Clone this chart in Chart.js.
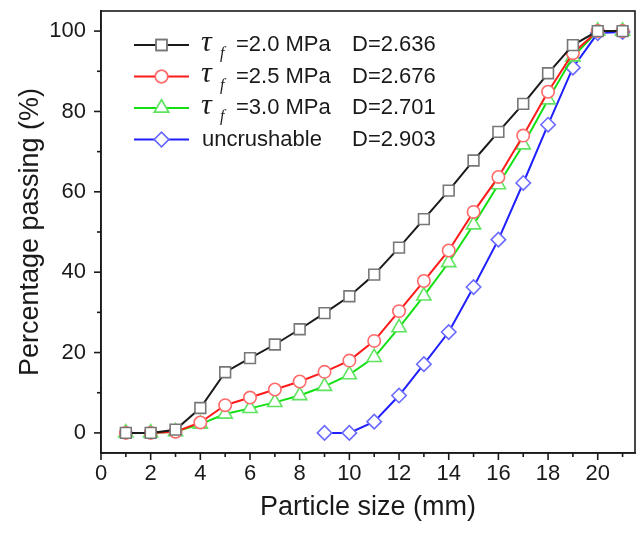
<!DOCTYPE html>
<html>
<head>
<meta charset="utf-8">
<script src="https://cdn.jsdelivr.net/npm/chart.js@4.4.0/dist/chart.umd.min.js"></script>
<style>
  html, body { margin: 0; padding: 0; background: #fff; }
  #wrap { width: 639px; height: 533px; position: relative; }
</style>
</head>
<body>
<div id="wrap"><canvas id="c" width="639" height="533"></canvas></div>
<script>
// ---- data ----
const sizes = [1,2,3,4,5,6,7,8,9,10,11,12,13,14,15,16,17,18,19,20,21];
const tau20 = [0,0,0.8,6.2,15.1,18.6,22.0,25.8,29.8,34.0,39.4,46.1,53.2,60.3,67.8,74.9,81.9,89.5,96.5,100,100];
const tau25 = [0,0,0.3,2.6,6.9,8.8,10.8,12.8,15.2,18.0,22.9,30.3,37.8,45.4,55.0,63.7,74.0,84.9,94.5,100,100];
const tau30 = [0,0,0.3,2.2,4.7,6.1,7.6,9.3,11.6,14.5,18.8,26.2,34.1,42.4,51.8,61.8,71.7,82.9,93.6,100,100];
const uncrushSizes = [9,10,11,12,13,14,15,16,17,18,19,20,21];
const uncrush = [0,0,2.8,9.3,17.1,25.1,36.3,48.1,62.2,76.7,90.9,99.5,99.8];
const legendNames = ['=2.0 MPa', '=2.5 MPa', '=3.0 MPa', 'uncrushable'];
const legendD = ['D=2.636', 'D=2.676', 'D=2.701', 'D=2.903'];
const xTickLabels = [0,2,4,6,8,10,12,14,16,18,20];
const yTickLabels = [0,20,40,60,80,100];

const toPts = (xs, ys) => xs.map((x, i) => ({x: x, y: ys[i]}));

const seriesStyle = [
  {line: '#1a1a1a', mark: '#777777', style: 'rect', r: 7.6},
  {line: '#ff1a1a', mark: '#ff6a6a', style: 'circle', r: 6.2},
  {line: '#12e012', mark: '#5fe45f', style: 'triangle', r: 8.2},
  {line: '#1f1fff', mark: '#6a6aff', style: 'rectRot', r: 7.2}
];
const seriesData = [toPts(sizes, tau20), toPts(sizes, tau25), toPts(sizes, tau30), toPts(uncrushSizes, uncrush)];

const datasets = seriesData.map((d, i) => ({
  label: legendNames[i],
  data: d,
  showLine: true,
  borderColor: seriesStyle[i].line,
  borderWidth: 2,
  pointStyle: seriesStyle[i].style,
  pointRadius: seriesStyle[i].r,
  pointBorderColor: seriesStyle[i].mark,
  pointBackgroundColor: '#ffffff',
  pointBorderWidth: 1.6,
  tension: 0
}));

const AXIS = '#1a1a1a';

const framePlugin = {
  id: 'frame',
  afterDraw(chart) {
    const {ctx, chartArea: a, scales} = chart;
    ctx.save();
    ctx.strokeStyle = AXIS;
    ctx.lineWidth = 1.6;
    ctx.strokeRect(a.left, a.top, a.right - a.left, a.bottom - a.top);
    const xs = scales.x;
    for (let v = 0; v <= 21; v++) {
      const px = xs.getPixelForValue(v);
      const len = (v % 2 === 0) ? 7 : 4;
      ctx.beginPath(); ctx.moveTo(px, a.bottom); ctx.lineTo(px, a.bottom + len); ctx.stroke();
    }
    const ys = scales.y;
    for (let v = 0; v <= 100; v += 10) {
      const py = ys.getPixelForValue(v);
      const len = (v % 20 === 0) ? 7 : 4;
      ctx.beginPath(); ctx.moveTo(a.left, py); ctx.lineTo(a.left - len, py); ctx.stroke();
    }
    ctx.restore();
  }
};

function drawMarker(ctx, st, x, y) {
  Chart.helpers.drawPoint(ctx, {pointStyle: st.style, radius: st.r, rotation: 0, borderWidth: 1.6}, x, y);
  ctx.fill();
  ctx.stroke();
}

const legendPlugin = {
  id: 'customLegend',
  afterDraw(chart) {
    const ctx = chart.ctx;
    ctx.save();
    const rowY = [45, 76.5, 108, 139.5];
    for (let i = 0; i < 4; i++) {
      const y = rowY[i];
      const st = seriesStyle[i];
      ctx.strokeStyle = st.line;
      ctx.lineWidth = 2;
      ctx.beginPath(); ctx.moveTo(134, y); ctx.lineTo(189, y); ctx.stroke();
      ctx.strokeStyle = st.mark;
      ctx.fillStyle = '#ffffff';
      ctx.lineWidth = 1.6;
      drawMarker(ctx, st, 161.5, y);
      ctx.fillStyle = '#1a1a1a';
      ctx.textBaseline = 'middle';
      ctx.textAlign = 'left';
      if (i < 3) {
        ctx.font = 'italic 30px "Liberation Serif"';
        ctx.fillText('\u03C4', 201, y - 2);
        ctx.font = 'italic 16px "Liberation Serif"';
        ctx.fillText('f', 220, y + 9);
        ctx.font = '22px "Liberation Sans"';
        ctx.fillText(legendNames[i], 236, y);
      } else {
        ctx.font = '22px "Liberation Sans"';
        ctx.fillText(legendNames[i], 202, y);
      }
      ctx.font = '22px "Liberation Sans"';
      ctx.fillText(legendD[i], 352, y);
    }
    ctx.restore();
  }
};

function zeroPad(s) { s.paddingTop = 0; s.paddingBottom = 0; s.paddingLeft = 0; s.paddingRight = 0; }

new Chart(document.getElementById('c'), {
  type: 'scatter',
  data: {datasets: datasets},
  options: {
    responsive: false,
    animation: false,
    layout: {autoPadding: false, padding: {left: 0, top: 11, right: 4, bottom: 0}},
    plugins: {legend: {display: false}, tooltip: {enabled: false}},
    scales: {
      x: {
        type: 'linear', min: 0, max: 21.5,
        afterFit(s) { s.height = 80; zeroPad(s); },
        afterBuildTicks(s) { s.ticks = xTickLabels.map(v => ({value: v})); },
        ticks: {autoSkip: false, maxRotation: 0, padding: 8, color: '#1a1a1a',
                font: {family: '"Liberation Sans"', size: 22}},
        grid: {display: false, drawTicks: false},
        border: {display: true, color: AXIS, width: 1.6},
        title: {display: true, text: 'Particle size (mm)', color: '#1a1a1a',
                font: {family: '"Liberation Sans"', size: 27}, padding: {top: 0, bottom: 9}}
      },
      y: {
        type: 'linear', min: -5, max: 105,
        afterFit(s) { s.width = 101; zeroPad(s); },
        afterBuildTicks(s) { s.ticks = yTickLabels.map(v => ({value: v})); },
        ticks: {autoSkip: false, padding: 15, color: '#1a1a1a',
                font: {family: '"Liberation Sans"', size: 22}},
        grid: {display: false, drawTicks: false},
        border: {display: true, color: AXIS, width: 1.6},
        title: {display: true, text: 'Percentage passing (%)', color: '#1a1a1a',
                font: {family: '"Liberation Sans"', size: 27}, padding: {top: 14, bottom: 0}}
      }
    }
  },
  plugins: [framePlugin, legendPlugin]
});
</script>
</body>
</html>
